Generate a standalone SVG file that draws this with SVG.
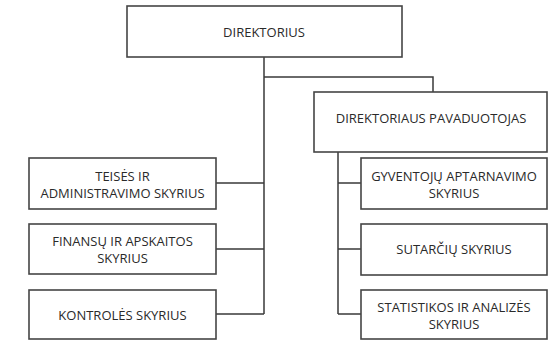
<svg xmlns="http://www.w3.org/2000/svg" width="557" height="341" viewBox="0 0 557 341">
<style>
.box{fill:#fff;stroke:#454545;stroke-width:1.6}
.ln{fill:none;stroke:#3a3a3a;stroke-width:1.5}
text{font-family:"Open Sans","Liberation Sans",sans-serif;font-size:13px;fill:#2a2a2a;text-anchor:middle;dominant-baseline:central}
</style>
<rect width="557" height="341" fill="#fff"/>
<g id="connectors">
<path class="ln" d="M264 57V314M264 77H433V92"/>
<path class="ln" d="M216 183H264M216 249H264M216 314H264"/>
<path class="ln" d="M338 152V314M338 183H361M338 249H361M338 314H361"/>
</g>
<g id="direktorius"><rect class="box" x="127" y="6" width="275" height="51"/><text x="264" y="32">DIREKTORIUS</text></g>
<g id="pavaduotojas"><rect class="box" x="314" y="92" width="233" height="60"/><text x="431" y="118">DIREKTORIAUS PAVADUOTOJAS</text></g>
<g id="teises"><rect class="box" x="29" y="158" width="187" height="51"/><text x="122.5" y="176">TEISĖS IR</text><text x="122.5" y="193">ADMINISTRAVIMO SKYRIUS</text></g>
<g id="finansu"><rect class="box" x="29" y="224" width="187" height="50"/><text x="122.5" y="241">FINANSŲ IR APSKAITOS</text><text x="122.5" y="258">SKYRIUS</text></g>
<g id="kontroles"><rect class="box" x="29" y="290" width="187" height="49"/><text x="122.5" y="315">KONTROLĖS SKYRIUS</text></g>
<g id="gyventoju"><rect class="box" x="361" y="158" width="186" height="51"/><text x="454" y="176">GYVENTOJŲ APTARNAVIMO</text><text x="454" y="193">SKYRIUS</text></g>
<g id="sutarciu"><rect class="box" x="361" y="224" width="186" height="51"/><text x="454" y="249">SUTARČIŲ SKYRIUS</text></g>
<g id="statistikos"><rect class="box" x="361" y="290" width="186" height="49"/><text x="454" y="307">STATISTIKOS IR ANALIZĖS</text><text x="454" y="324">SKYRIUS</text></g>
</svg>
